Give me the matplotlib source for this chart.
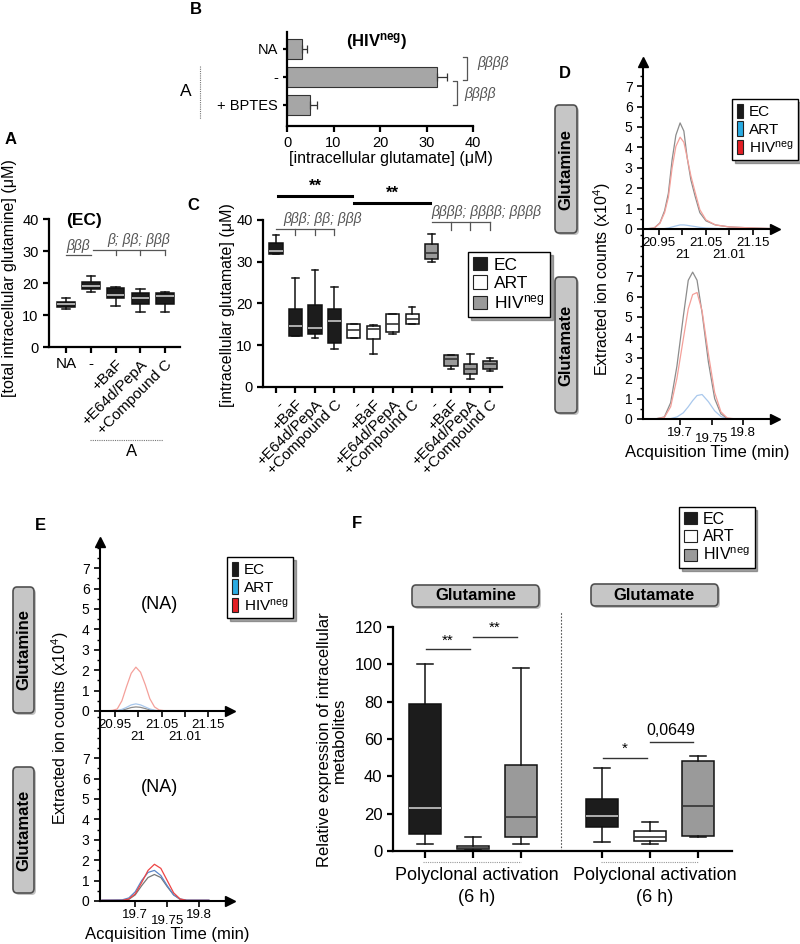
import matplotlib
matplotlib.use('Agg')
import matplotlib.pyplot as plt
from matplotlib.patches import FancyBboxPatch, Patch
from matplotlib.lines import Line2D
from matplotlib.ticker import MultipleLocator

plt.rcParams['font.family'] = ['Liberation Sans', 'DejaVu Sans']
plt.rcParams['mathtext.default'] = 'regular'

HIVNEG = 'HIV$^{neg}$'

# ---- panel B : intracellular glutamate, HIVneg
b_labels = ['NA', '-', '+ BPTES']
b_mean = [3.3, 32.3, 5.0]
b_err = [1.0, 2.2, 1.5]

# ---- panel A : total intracellular glutamine (EC)
a_labels = ['NA', '-', '+BaF', '+E64d/PepA', '+Compound C']
a_whislo = [11.8, 17.2, 12.9, 11.0, 11.0]
a_q1 = [12.6, 18.0, 15.2, 13.5, 13.5]
a_med = [13.3, 19.0, 16.2, 15.3, 15.8]
a_q3 = [14.2, 20.2, 18.4, 16.8, 17.0]
a_whishi = [15.3, 22.2, 18.7, 18.2, 17.3]

# ---- panel C : intracellular glutamate per group
c_labels = ['-', '+BaF', '+E64d/PepA', '+Compound C'] * 3
c_groups = ['EC'] * 4 + ['ART'] * 4 + ['HIVneg'] * 4
c_whislo = [31.8, 12.2, 11.7, 9.0, 11.8, 8.0, 12.8, 15.2, 30.0, 4.2, 2.0, 3.8]
c_q1 = [31.8, 12.2, 12.8, 10.6, 11.8, 11.6, 13.2, 15.2, 30.6, 5.0, 3.0, 4.4]
c_med = [32.6, 14.6, 14.2, 15.8, 13.6, 14.0, 15.2, 16.2, 32.2, 6.8, 4.2, 5.4]
c_q3 = [34.6, 18.6, 19.6, 18.6, 15.0, 14.6, 17.6, 17.6, 34.2, 7.7, 5.4, 6.2]
c_whishi = [36.4, 26.0, 28.0, 24.0, 15.0, 14.8, 17.6, 19.2, 36.6, 7.7, 7.8, 7.0]

# ---- panel D : chromatograms (x10^4 counts)
dgln_t = [20.92, 20.94, 20.952, 20.962, 20.97, 20.978, 20.986, 20.995, 21.003,
          21.01, 21.018, 21.027, 21.037, 21.05, 21.07, 21.1, 21.15, 21.19]
dgln_ec = [0, 0.05, 0.3, 0.9, 1.75, 3.4, 4.6, 5.2, 4.8, 3.5, 2.4, 1.6, 0.8, 0.4,
           0.2, 0.1, 0.05, 0.02]
dgln_hiv = [0, 0.05, 0.28, 0.8, 1.55, 3.0, 4.05, 4.5, 4.25, 3.5, 2.6, 1.8, 0.95,
            0.45, 0.2, 0.1, 0.05, 0.02]
dgln_art = [0, 0, 0, 0.02, 0.05, 0.1, 0.15, 0.2, 0.2, 0.18, 0.15, 0.12, 0.08,
            0.05, 0.03, 0.01, 0, 0]

dglu_t = [19.66, 19.675, 19.685, 19.695, 19.705, 19.713, 19.72, 19.727, 19.735,
          19.745, 19.755, 19.765, 19.775, 19.79]
dglu_ec = [0, 0.1, 0.8, 2.6, 5.0, 6.8, 7.2, 6.8, 5.2, 2.8, 1.0, 0.25, 0.03, 0]
dglu_hiv = [0, 0.08, 0.6, 2.0, 3.9, 5.4, 6.1, 6.2, 5.3, 3.2, 1.3, 0.35, 0.05, 0]
dglu_art = [0, 0, 0.02, 0.1, 0.3, 0.6, 0.9, 1.15, 1.2, 0.85, 0.4, 0.12, 0.02, 0]

# ---- panel E : chromatograms, NA
egln_t = [20.93, 20.945, 20.955, 20.965, 20.975, 20.985, 20.995, 21.005, 21.015,
          21.025, 21.035, 21.045, 21.06]
egln_hiv = [0, 0.03, 0.1, 0.5, 1.2, 1.85, 2.15, 1.9, 1.3, 0.6, 0.2, 0.05, 0]
egln_art = [0, 0, 0.02, 0.08, 0.18, 0.3, 0.35, 0.3, 0.2, 0.1, 0.04, 0.01, 0]
egln_ec = [0, 0, 0.01, 0.04, 0.1, 0.17, 0.2, 0.18, 0.12, 0.06, 0.02, 0, 0]

eglu_t = [19.648, 19.68, 19.69, 19.7, 19.71, 19.72, 19.73, 19.74, 19.75, 19.76,
          19.77, 19.78, 19.815]
eglu_hiv = [0.03, 0.03, 0.1, 0.35, 0.9, 1.5, 1.8, 1.6, 1.0, 0.4, 0.1, 0.03, 0.03]
eglu_art = [0.05, 0.06, 0.15, 0.45, 1.0, 1.4, 1.5, 1.25, 0.75, 0.3, 0.1, 0.05, 0.05]
eglu_ec = [0.02, 0.02, 0.08, 0.3, 0.75, 1.15, 1.3, 1.15, 0.7, 0.3, 0.08, 0.02, 0.02]

# ---- panel F : relative expression after polyclonal activation
f_groups = ['EC', 'ART', 'HIVneg'] * 2
f_whislo = [3.9, 0.5, 3.6, 5.0, 3.9, 7.5]
f_q1 = [9.1, 0.9, 7.5, 13.0, 5.4, 8.0]
f_med = [23.2, 1.4, 18.4, 18.9, 7.7, 24.3]
f_q3 = [79.0, 2.7, 46.2, 27.7, 10.5, 48.2]
f_whishi = [100.2, 7.7, 98.0, 44.3, 15.5, 50.9]

box_fill = {'EC': '#1c1c1c', 'ART': 'white', 'HIVneg': '#9a9a9a'}
med_col = {'EC': '#c8c8c8', 'ART': '#333333', 'HIVneg': '#333333'}
line_col = {'EC': '#8c8c8c', 'ART': '#a9c8ec', 'HIVneg': '#f4a09a'}
leg_col = {'EC': '#1a1a1a', 'ART': '#29abe2', 'HIVneg': '#e31e24'}

W, H = 800, 944
fig = plt.figure(figsize=(8, 9.44), dpi=100)


def px_axes(l, t, r, b):
    return fig.add_axes([l / W, 1 - b / H, (r - l) / W, (b - t) / H])


def ftext(x, y, s, **kw):
    kw.setdefault('ha', 'center')
    kw.setdefault('va', 'center')
    fig.text(x / W, 1 - y / H, s, **kw)


def fline(xs, ys, **kw):
    fig.add_artist(Line2D([x / W for x in xs], [1 - y / H for y in ys], **kw))


def button(l, t, r, b, s, vertical=False):
    sh = FancyBboxPatch((l / W + 2 / W, 1 - b / H - 2 / H), (r - l) / W, (b - t) / H,
                        boxstyle='round,pad=0,rounding_size=0.005',
                        transform=fig.transFigure, fc='#9a9a9a', ec='none', alpha=0.6)
    p = FancyBboxPatch((l / W, 1 - b / H), (r - l) / W, (b - t) / H,
                       boxstyle='round,pad=0,rounding_size=0.005',
                       transform=fig.transFigure, fc='#c6c6c6', ec='#505050', lw=1.2)
    fig.add_artist(sh)
    fig.add_artist(p)
    ftext((l + r) / 2, (t + b) / 2, s, fontsize=12, fontweight='bold',
          rotation=90 if vertical else 0)


def style_axes(ax, lw=1.6):
    for s in ['top', 'right']:
        ax.spines[s].set_visible(False)
    for s in ['left', 'bottom']:
        ax.spines[s].set_linewidth(lw)
    ax.tick_params(width=lw, length=4, labelsize=10.5)


def boxes(ax, pos, lo, q1, med, q3, hi, groups, width):
    for i in range(len(pos)):
        st = dict(whislo=lo[i], q1=q1[i], med=med[i], q3=q3[i], whishi=hi[i])
        g = groups[i]
        ax.bxp([st], positions=[pos[i]], widths=width, patch_artist=True,
               showfliers=False, manage_ticks=False,
               boxprops=dict(facecolor=box_fill[g], edgecolor='#111', lw=1.1),
               medianprops=dict(color=med_col[g], lw=1.2),
               whiskerprops=dict(color='#111', lw=1.1),
               capprops=dict(color='#111', lw=1.1))


def legend_boxes(x, y, colors, fs=11, hl=0.8, hh=0.8):
    hs = [Patch(facecolor=colors[k], edgecolor='#222', lw=0.8) for k in ['EC', 'ART', 'HIVneg']]
    lg = fig.legend(hs, ['EC', 'ART', HIVNEG], loc='upper left',
                    bbox_to_anchor=(x / W, 1 - y / H), frameon=True, fancybox=False,
                    shadow=True, edgecolor='black', fontsize=fs, handlelength=hl,
                    handleheight=hh, borderpad=0.3, labelspacing=0.15,
                    handletextpad=0.4, borderaxespad=0)
    lg.get_frame().set_linewidth(1.0)


# ================= panel B
axB = px_axes(287, 32, 473, 126)
axB.barh(range(3), b_mean, height=0.7, color='#a6a6a6', edgecolor='#333', lw=0.8,
         xerr=[[0] * 3, b_err],
         error_kw=dict(ecolor='#333', capsize=3, elinewidth=0.9, capthick=0.9))
axB.set_xlim(0, 40)
axB.set_ylim(2.75, -0.607)
axB.set_yticks(range(3))
axB.set_yticklabels(b_labels, fontsize=12.5)
axB.set_xticks([0, 10, 20, 30, 40])
style_axes(axB)
axB.tick_params(axis='y', length=3)
for xs, ys in [([37.8, 38.7, 38.7, 37.8], [0.29, 0.29, 1.1, 1.1]),
               ([35.7, 36.6, 36.6, 35.7], [1.14, 1.14, 2.0, 2.0])]:
    axB.plot(xs, ys, color='#555', lw=0.9, clip_on=False)
axB.text(40.9, 0.5, 'ββββ', fontsize=10, style='italic', color='#555', va='center')
axB.text(38.1, 1.6, 'ββββ', fontsize=10, style='italic', color='#555', va='center')
ftext(377, 42, '(' + HIVNEG + ')', fontsize=12, fontweight='bold')
ftext(391, 158, '[intracellular glutamate] (μM)', fontsize=11.5)
ftext(186, 92, 'A', fontsize=12.5)
fline([200, 200], [66, 119], color='#777', lw=0.8, ls=(0, (1, 1)))
ftext(196, 9, 'B', fontsize=12, fontweight='bold')

# ================= panel A
axA = px_axes(49, 219, 180, 347)
posA = [1, 2, 3, 4, 5]
boxes(axA, posA, a_whislo, a_q1, a_med, a_q3, a_whishi, ['EC'] * 5, 0.7)
axA.set_xlim(0.31, 5.6)
axA.set_ylim(0, 40)
axA.set_yticks([0, 10, 20, 30, 40])
axA.set_xticks(posA)
axA.set_xticklabels(a_labels)
style_axes(axA)
for lbl in axA.get_xticklabels()[2:]:
    lbl.set_rotation(45)
    lbl.set_ha('right')
    lbl.set_rotation_mode('anchor')
axA.tick_params(axis='x', labelsize=11)
axA.plot([1, 2], [28.7, 28.7], color='#555', lw=0.9, clip_on=False)
axA.text(1.5, 29.3, 'βββ', fontsize=10, style='italic', color='#555', ha='center', va='bottom')
axA.plot([2.1, 5], [30.4, 30.4], color='#555', lw=0.9, clip_on=False)
for xp in [3, 4, 5]:
    axA.plot([xp, xp], [30.4, 28.7], color='#555', lw=0.9, clip_on=False)
axA.text(3.95, 31.2, 'β; ββ; βββ', fontsize=10, style='italic', color='#555', ha='center', va='bottom')
ftext(84, 220, '(EC)', fontsize=12.5, fontweight='bold')
ftext(10, 278, '[total intracellular glutamine] (μM)', fontsize=11.5, rotation=90)
fline([90, 163], [440, 440], color='#777', lw=0.8, ls=(0, (1, 1)))
ftext(132, 451, 'A', fontsize=12)
ftext(11, 140, 'A', fontsize=12, fontweight='bold')

# ================= panel C
axC = px_axes(263, 220, 502, 387)
posC = list(range(1, 13))
boxes(axC, posC, c_whislo, c_q1, c_med, c_q3, c_whishi, c_groups, 0.68)
axC.set_xlim(0.33, 12.62)
axC.set_ylim(0, 40)
axC.set_yticks([0, 10, 20, 30, 40])
axC.set_xticks(posC)
axC.set_xticklabels(c_labels, rotation=45, ha='right', rotation_mode='anchor')
style_axes(axC)
axC.tick_params(axis='x', labelsize=11)
axC.plot([1.1, 4.9], [45.8, 45.8], color='black', lw=2.2, clip_on=False)
axC.text(3.0, 46.3, '**', fontsize=12, fontweight='bold', ha='center', va='bottom')
axC.plot([5.0, 8.9], [44.1, 44.1], color='black', lw=2.2, clip_on=False)
axC.text(7.0, 44.6, '**', fontsize=12, fontweight='bold', ha='center', va='bottom')
axC.plot([1, 4], [37.9, 37.9], color='#555', lw=0.9, clip_on=False)
for xp in [2, 3, 4]:
    axC.plot([xp, xp], [37.9, 36.4], color='#555', lw=0.9, clip_on=False)
axC.text(1.4, 40.2, 'βββ; ββ; βββ', fontsize=10, style='italic', color='#555', va='center')
axC.plot([9, 12], [39.6, 39.6], color='#555', lw=0.9, clip_on=False)
for xp in [10, 11, 12]:
    axC.plot([xp, xp], [39.6, 37.6], color='#555', lw=0.9, clip_on=False)
axC.text(9.0, 42.0, 'ββββ; ββββ; ββββ', fontsize=10, style='italic', color='#555', va='center')
legend_boxes(468, 252, box_fill, fs=12.5)
ftext(228, 305, '[intracellular glutamate] (μM)', fontsize=11.5, rotation=90)
ftext(193, 205, 'C', fontsize=12, fontweight='bold')


# ================= chromatogram helpers
def chrom_pair(l, r, t_top, y_mid, y_bot, xlim_u, xlim_l, ticks_u, labs_u, ticks_l, labs_l):
    axu = px_axes(l, t_top, r, y_mid)
    axl = px_axes(l, y_mid, r, y_bot)
    axu.set_xlim(*xlim_u)
    axu.set_ylim(0, (y_mid - t_top) / 20.4)
    axl.set_xlim(*xlim_l)
    axl.set_ylim(0, (y_bot - y_mid) / 20.4)
    for ax in (axu, axl):
        ax.patch.set_visible(False)
        for s in ['top', 'right']:
            ax.spines[s].set_visible(False)
        for s in ['left', 'bottom']:
            ax.spines[s].set_linewidth(1.5)
        ax.set_yticks(range(8))
        ax.yaxis.set_minor_locator(MultipleLocator(0.5))
        ax.tick_params(axis='y', which='major', length=4, width=1.2, labelsize=10)
        ax.tick_params(axis='y', which='minor', length=2.5, width=1.0)
        ax.tick_params(axis='x', length=4, width=1.2, labelsize=9.5, pad=2)
        ax.plot(1, 0, '>k', ms=7, transform=ax.transAxes, clip_on=False)
    axu.plot(0, 1, '^k', ms=7, transform=axu.transAxes, clip_on=False)
    axu.set_xticks(ticks_u)
    axu.set_xticklabels(labs_u)
    for k in (1, 3):
        axu.get_xticklabels()[k].set_y(-12.0 / (y_mid - t_top))
    axl.set_xticks(ticks_l)
    axl.set_xticklabels(labs_l)
    axl.get_xticklabels()[1].set_y(-6.0 / (y_bot - y_mid))
    return axu, axl


gln_ticks = [20.95, 21.0, 21.05, 21.1, 21.15]
gln_labs = ['20.95', '21', '21.05', '21.01', '21.15']
glu_ticks = [19.7, 19.75, 19.8]
glu_labs = ['19.7', '19.75', '19.8']

# ================= panel D
axDu, axDl = chrom_pair(643, 775, 62, 229, 419, (20.916, 21.197), (19.641, 19.851),
                        gln_ticks, gln_labs, glu_ticks, glu_labs)
axDu.plot(dgln_t, dgln_art, color=line_col['ART'], lw=0.9)
axDu.plot(dgln_t, dgln_ec, color=line_col['EC'], lw=0.9)
axDu.plot(dgln_t, dgln_hiv, color=line_col['HIVneg'], lw=0.9)
axDl.plot(dglu_t, dglu_art, color=line_col['ART'], lw=0.9)
axDl.plot(dglu_t, dglu_ec, color=line_col['EC'], lw=0.9)
axDl.plot(dglu_t, dglu_hiv, color=line_col['HIVneg'], lw=0.9)
legend_boxes(732, 99, leg_col, fs=11, hl=0.4, hh=1.1)
button(555, 105, 577, 233, 'Glutamine', vertical=True)
button(555, 277, 577, 413, 'Glutamate', vertical=True)
ftext(602, 279, 'Extracted ion counts (x10$^4$)', fontsize=11.5, rotation=90)
ftext(707, 453, 'Acquisition Time (min)', fontsize=12)
ftext(565, 73, 'D', fontsize=12, fontweight='bold')

# ================= panel E
axEu, axEl = chrom_pair(100, 230, 542, 711, 901, (20.918, 21.197), (19.645, 19.848),
                        gln_ticks, gln_labs, glu_ticks, glu_labs)
axEu.plot(egln_t, egln_ec, color='#8c8c8c', lw=0.9)
axEu.plot(egln_t, egln_art, color='#a9c8ec', lw=0.9)
axEu.plot(egln_t, egln_hiv, color='#f4a09a', lw=0.9)
axEl.plot(eglu_t, eglu_ec, color='#777777', lw=0.9)
axEl.plot(eglu_t, eglu_art, color='#5b86c8', lw=0.9)
axEl.plot(eglu_t, eglu_hiv, color='#ee4444', lw=0.9)
axEu.text(0.46, 0.63, '(NA)', fontsize=13, transform=axEu.transAxes, ha='center', va='center')
axEl.text(0.46, 0.6, '(NA)', fontsize=13, transform=axEl.transAxes, ha='center', va='center')
legend_boxes(227, 557, leg_col, fs=11, hl=0.4, hh=1.1)
button(13, 587, 34, 713, 'Glutamine', vertical=True)
button(13, 767, 34, 893, 'Glutamate', vertical=True)
ftext(60, 728, 'Extracted ion counts (x10$^4$)', fontsize=11.5, rotation=90)
ftext(167, 935, 'Acquisition Time (min)', fontsize=12)
ftext(40, 525, 'E', fontsize=12, fontweight='bold')

# ================= panel F
axF = px_axes(393, 627, 732, 851)
posF = [1, 2, 3, 4.69, 5.69, 6.69]
boxes(axF, posF, f_whislo, f_q1, f_med, f_q3, f_whishi, f_groups, 0.67)
axF.set_xlim(0.333, 7.4)
axF.set_ylim(0, 120)
axF.set_yticks([0, 20, 40, 60, 80, 100, 120])
axF.set_xticks(posF)
axF.set_xticklabels([])
style_axes(axF)
axF.tick_params(axis='y', labelsize=12)
axF.tick_params(axis='x', length=5)
axF.plot([3.83, 3.83], [0, 128], color='#555', lw=0.8, ls=(0, (1.5, 1.5)), clip_on=False)
for x0, x1, yv in [(1.02, 1.94, 108), (2.0, 2.92, 114.6), (4.71, 5.63, 49.8), (5.69, 6.58, 58.4)]:
    axF.plot([x0, x1], [yv, yv], color='#333', lw=1.0, clip_on=False)
axF.text(1.48, 109, '**', fontsize=11, ha='center', va='bottom')
axF.text(2.46, 115.6, '**', fontsize=11, ha='center', va='bottom')
axF.text(5.17, 50.8, '*', fontsize=11, ha='center', va='bottom')
axF.text(6.13, 60.5, '0,0649', fontsize=11.5, ha='center', va='bottom')
fline([423, 521], [862, 862], color='#999', lw=0.8, ls=(0, (1, 1)))
fline([601, 698], [862, 862], color='#999', lw=0.8, ls=(0, (1, 1)))
for xc in [477, 655]:
    ftext(xc, 875, 'Polyclonal activation', fontsize=13)
    ftext(xc, 897, '(6 h)', fontsize=13)
ftext(332, 740, 'Relative expression of intracellular\nmetabolites', fontsize=12,
      rotation=90, multialignment='center', linespacing=1.0)
button(412, 585, 539, 607, 'Glutamine')
button(591, 584, 718, 606, 'Glutamate')
legend_boxes(679, 507, box_fill, fs=11.5)
ftext(357, 523, 'F', fontsize=12, fontweight='bold')

fig.savefig('out.png', dpi=100)
